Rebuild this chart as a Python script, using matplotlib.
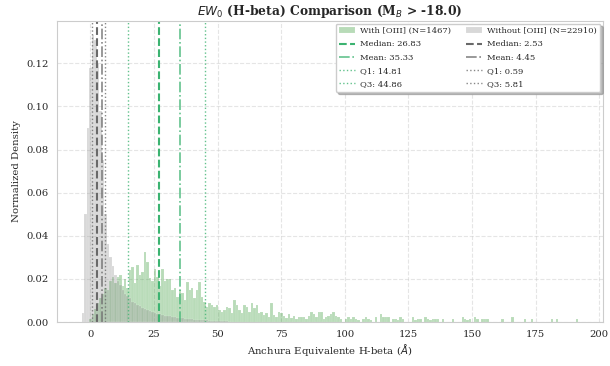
import numpy as np
import matplotlib
matplotlib.use("Agg")
import matplotlib.pyplot as plt
import seaborn as sns

# histogram binning (shared by both samples)
bin_start = -3.4
bin_width = 0.9755

# normalized density per bin, galaxies with [OIII]
with_oiii = [
    0, 0, 0, 0.0014, 0.0035, 0.006, 0.009, 0.011, 0.013, 0.016,
    0.015, 0.019, 0.021, 0.018, 0.0211, 0.0219, 0.0165, 0.020, 0.0157, 0.0241,
    0.0253, 0.0179, 0.0264, 0.0218, 0.0233, 0.0326, 0.028, 0.0202, 0.019, 0.0248,
    0.021, 0.0165, 0.0248, 0.019, 0.020, 0.020, 0.0148, 0.016, 0.0117, 0.0148,
    0.0133, 0.0102, 0.0187, 0.0148, 0.0156, 0.011, 0.0148, 0.0187, 0.0117, 0.0094,
    0.0071, 0.0086, 0.0079, 0.0071, 0.0079, 0.0056, 0.0048, 0.0056, 0.0071, 0.0063,
    0.004, 0.0102, 0.0079, 0.0056, 0.004, 0.0079, 0.0071, 0.0048, 0.0086, 0.0063,
    0.0079, 0.004, 0.0048, 0.0032, 0.004, 0.0025, 0.0086, 0.0032, 0.0025, 0.0048,
    0.004, 0.003, 0.002, 0.0035, 0.002, 0.0028, 0.0014, 0.0021, 0.0021, 0.0021,
    0.0014, 0.0028, 0.0048, 0.0035, 0.0021, 0.0048, 0.0045, 0.0014, 0.0021, 0.0028,
    0.0035, 0.0048, 0.0028, 0.0021, 0.0014, 0, 0.0014, 0.0021, 0.0014, 0.0021,
    0.0014, 0.0007, 0, 0.0014, 0.0021, 0.0014, 0.0007, 0, 0.0021, 0,
    0.0035, 0.0021, 0.0021, 0.0021, 0, 0.0014, 0.0014, 0.0007, 0.0021, 0.0014,
    0, 0, 0, 0.0021, 0.0007, 0.0014, 0.0014, 0, 0.0021, 0.0014,
    0.0007, 0.0014, 0.0014, 0.0014, 0, 0.0014, 0, 0, 0, 0.0014,
    0, 0, 0, 0.0021, 0.0014, 0.0007, 0.0014, 0, 0.0021, 0.0014,
    0, 0.0014, 0.0014, 0.0014, 0, 0, 0, 0, 0, 0.0014,
    0, 0, 0, 0.0021, 0, 0, 0, 0, 0.0014, 0,
    0, 0.0014, 0, 0, 0, 0, 0, 0, 0, 0.0014,
    0, 0.0014, 0, 0, 0, 0, 0, 0, 0, 0.0014,
]

# normalized density per bin, galaxies without [OIII]
without_oiii = [
    0.004, 0.05, 0.09, 0.118, 0.133, 0.131, 0.12, 0.098, 0.075, 0.05,
    0.036, 0.03, 0.026, 0.022, 0.019, 0.017, 0.015, 0.013, 0.012, 0.011,
    0.0095, 0.0088, 0.008, 0.0072, 0.0066, 0.006, 0.0055, 0.005, 0.0046, 0.0042,
    0.0039, 0.0036, 0.0033, 0.003, 0.0028, 0.0026, 0.0024, 0.0022, 0.002, 0.0019,
    0.0017, 0.0016, 0.0014, 0.0013, 0.0012, 0.0011, 0.001, 0.0009, 0.0008, 0.0008,
    0.0007, 0.0006, 0.0006, 0.0005, 0.0005, 0.0004, 0.0004, 0.0003, 0.0003, 0.0002,
]

n_with = 1467
n_without = 22910
stats_with = {"Median": 26.83, "Mean": 35.33, "Q1": 14.81, "Q3": 44.86}
stats_without = {"Median": 2.53, "Mean": 4.45, "Q1": 0.59, "Q3": 5.81}

sns.set_style("whitegrid")
plt.rcParams["font.family"] = "DejaVu Serif"
plt.rcParams["mathtext.fontset"] = "dejavusans"

fig, ax = plt.subplots(figsize=(6.1, 3.66), dpi=100)
fig.subplots_adjust(left=0.0934, right=0.9885, top=0.9426, bottom=0.1202)

edges_with = bin_start + bin_width * np.arange(len(with_oiii) + 1)
edges_without = bin_start + bin_width * np.arange(len(without_oiii) + 1)

ax.hist(edges_with[:-1], bins=edges_with, weights=with_oiii, color="green",
        alpha=0.28, edgecolor="white", linewidth=0.3,
        label=f"With [OIII] (N={n_with})")
ax.hist(edges_without[:-1], bins=edges_without, weights=without_oiii, color="gray",
        alpha=0.3, edgecolor="white", linewidth=0.3,
        label=f"Without [OIII] (N={n_without})")

green = "mediumseagreen"
dark = "dimgray"
line_styles = {"Median": ("--", 1.5, 1.0), "Mean": ("-.", 1.2, 0.8),
               "Q1": (":", 1.0, 0.8), "Q3": (":", 1.0, 0.8)}

hist_handles, _ = ax.get_legend_handles_labels()
green_lines, gray_lines = [], []
for key, (ls, lw, a) in line_styles.items():
    v = stats_with[key]
    green_lines.append(ax.axvline(v, color=green, linestyle=ls, linewidth=lw, alpha=a,
                                  label=f"{key}: {v:.2f}"))
    v = stats_without[key]
    gray_lines.append(ax.axvline(v, color=dark, linestyle=ls, linewidth=lw, alpha=a,
                                 label=f"{key}: {v:.2f}"))

# column-wise ordering for a two-column legend
leg_handles = [hist_handles[0]] + green_lines + [hist_handles[1]] + gray_lines
leg_labels = [h.get_label() for h in leg_handles]
ax.legend(leg_handles, leg_labels, ncol=2, loc="upper right", fontsize=6,
          frameon=True, fancybox=True, shadow={"color": "0.55", "alpha": 0.6},
          borderaxespad=0.3, handlelength=1.9, labelspacing=0.62,
          columnspacing=1.8, borderpad=0.45, handletextpad=0.6)

ax.grid(True, linestyle="--", alpha=0.5)
for s in ax.spines.values():
    s.set_color("#cccccc")
ax.tick_params(labelsize=7.2, pad=2.5)

ax.set_title(r"$EW_0$ (H-beta) Comparison (M$_B$ > -18.0)", fontsize=8.8,
             fontweight="bold", pad=4)
ax.set_xlabel(r"Anchura Equivalente H-beta ($Å$)", fontsize=7.3, labelpad=2)
ax.set_ylabel("Normalized Density", fontsize=7.3, labelpad=4)

fig.savefig("out.png", dpi=100)
